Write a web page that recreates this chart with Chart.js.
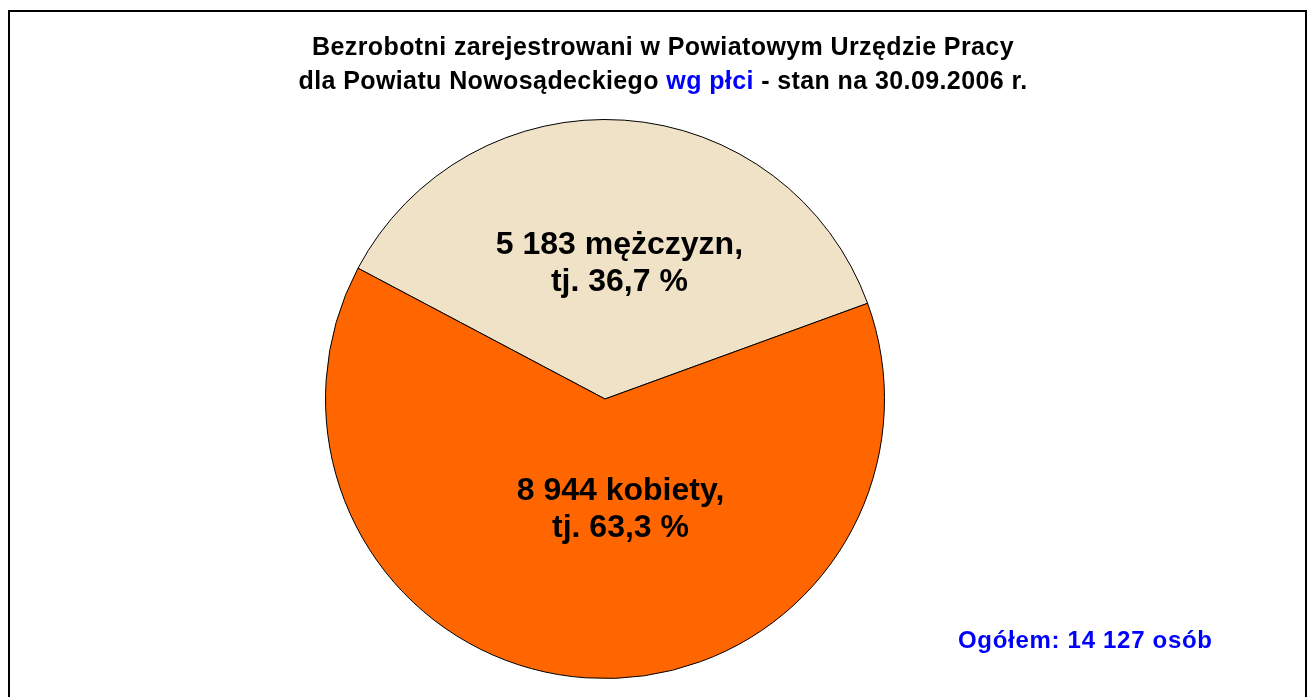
<!DOCTYPE html>
<html><head><meta charset="utf-8">
<script src="https://cdn.jsdelivr.net/npm/chart.js@4"></script>
<style>
html,body{margin:0;padding:0;background:#fff;width:1313px;height:697px;overflow:hidden;font-family:"Liberation Sans",Arial,sans-serif;}
#frame{position:absolute;left:8px;top:10px;width:1299px;height:720px;border:2px solid #000;box-sizing:border-box;}
#title{position:absolute;left:0;top:29px;width:1326px;text-align:center;font-weight:bold;font-size:25px;letter-spacing:0.4px;line-height:34px;color:#000;white-space:nowrap;}
#title .blue{color:#0000ff;}
#total{position:absolute;left:958px;top:626px;font-weight:bold;font-size:24px;letter-spacing:0.7px;color:#0000ff;white-space:nowrap;}
#wrap{position:absolute;left:0;top:0;width:1313px;height:697px;}
</style>
</head><body>
<div id="frame"></div>
<div id="wrap"><canvas id="c" width="1313" height="697"></canvas></div>
<div id="title">Bezrobotni zarejestrowani w Powiatowym Urzędzie Pracy<br>dla Powiatu Nowosądeckiego <span class="blue">wg płci</span> - stan na 30.09.2006 r.</div>
<div id="total"></div>
<script>
const categories = ['mężczyzn', 'kobiety'];
const counts = [5183, 8944];
const percents = [36.7, 63.3];
const totalLabel = 'Ogółem';
const sliceColors = ['#EFE2C7', '#FF6600'];

function fmt(n){ return String(n).replace(/\B(?=(\d{3})+(?!\d))/g, ' '); }
const total = counts.reduce((a,b)=>a+b,0);
document.getElementById('total').textContent = totalLabel + ': ' + fmt(total) + ' osób';

const labelRadius = [0.49, 0.39];
const labelDx = [5, 23];
const labelDy = [1, 2];

const sliceLabels = {
  id: 'sliceLabels',
  afterDatasetsDraw(chart){
    const meta = chart.getDatasetMeta(0);
    const ctx = chart.ctx;
    ctx.save();
    ctx.font = 'bold 32px "Liberation Sans", Arial, sans-serif';
    ctx.fillStyle = '#000';
    ctx.textAlign = 'center';
    ctx.textBaseline = 'middle';
    meta.data.forEach((arc, i) => {
      const p = arc.getProps(['x','y','startAngle','endAngle','outerRadius'], true);
      const mid = (p.startAngle + p.endAngle) / 2;
      const r = p.outerRadius * labelRadius[i];
      const lx = p.x + Math.cos(mid) * r + labelDx[i];
      const ly = p.y + Math.sin(mid) * r + labelDy[i];
      const l1 = fmt(counts[i]) + ' ' + categories[i] + ',';
      const l2 = 'tj. ' + percents[i].toFixed(1).replace('.', ',') + ' %';
      ctx.fillText(l1, lx, ly - 18.5);
      ctx.fillText(l2, lx, ly + 18.5);
    });
    ctx.restore();
  }
};

new Chart(document.getElementById('c'), {
  type: 'pie',
  data: {
    labels: categories,
    datasets: [{
      data: counts,
      backgroundColor: sliceColors,
      borderColor: '#000',
      borderWidth: 1
    }]
  },
  options: {
    responsive: false,
    animation: false,
    rotation: -62.1,
    layout: { padding: { left: 325, right: 428, top: 119, bottom: 18 } },
    plugins: { legend: { display: false }, tooltip: { enabled: false }, title: { display: false } }
  },
  plugins: [sliceLabels]
});
</script>
</body></html>
